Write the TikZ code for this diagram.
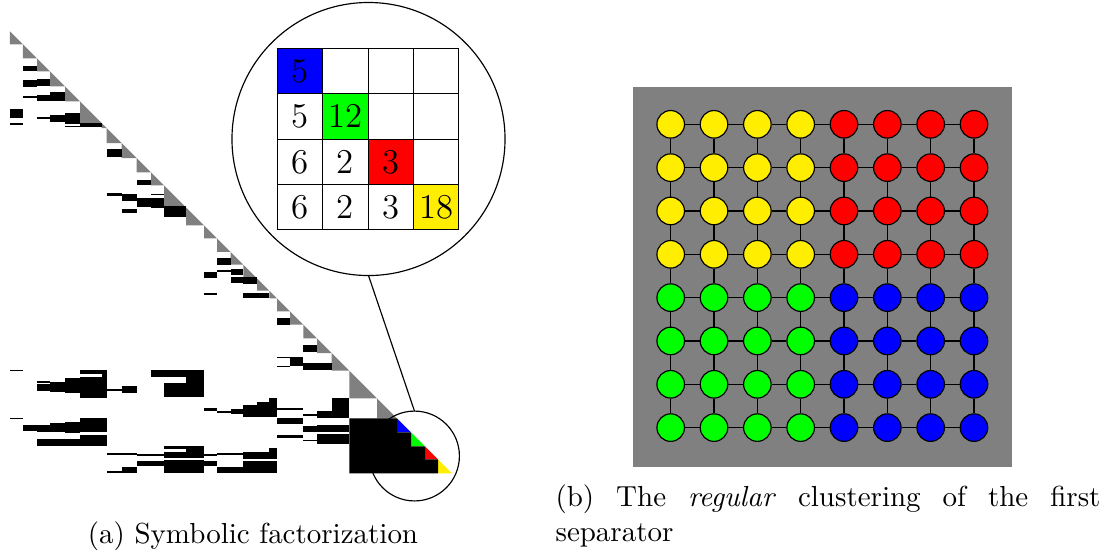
\documentclass[tikz,border=0pt]{standalone}
\usepackage{tikz}
\usetikzlibrary{positioning}
\definecolor{sepyellow}{RGB}{255,238,0}

\tikzset{
  cell/.style={draw, minimum size=15.66pt, inner sep=0pt, outer sep=0pt, font=\large},
  vtx/.style={draw, circle, minimum size=9.5pt, inner sep=0pt},
  lens/.style={draw, circle, inner sep=0pt, outer sep=0pt},
  diagblk/.style={fill=gray},
}

\begin{document}
\begin{tikzpicture}[x=0.345pt, y=-0.345pt]
        \useasboundingbox (0,0) rectangle (1106,551);

        % Diagonal blocks of the factor
        \foreach \a/\b in {10/23, 23/37, 37/50, 50/65, 65/80, 80/101.7, 101.7/106.7,
            106.7/121.7, 121.7/136.7, 136.7/151, 151/164, 164/186, 186/204, 204/217,
            217/230.5, 230.5/243.3, 243.3/257, 257/269.3, 269.3/277, 277/290,
            290/303.3, 303.3/317, 317/331.7, 331.7/349.3, 349.3/377, 377/397}
            \fill[diagblk] (\a,{\a+21.3}) -- (\b,{\b+21.3}) -- (\a,{\b+21.3}) -- cycle;

        % Last separator, one colour per cluster
        \fill[blue] (397,418.3) -- (411,432.3) -- (397,432.3) -- cycle;
        \fill[green] (411,432.3) -- (425,446.3) -- (411,446.3) -- cycle;
        \fill[red] (425,446.3) -- (438,459.3) -- (425,459.3) -- cycle;
        \fill[sepyellow] (438,459.3) -- (452,473.3) -- (438,473.3) -- cycle;

        % Off-diagonal blocks
        \fill (23,66) rectangle (37,71);
        \fill (23,80) rectangle (37,87);
        \fill (37,79) rectangle (50,86);
        \fill (23,96) rectangle (37,97.7);
        \fill (37,95) rectangle (50,101);
        \fill (50,92.3) rectangle (65,101);
        \fill (10,109) rectangle (23,118);
        \fill (10,123) rectangle (23,124.7);
        \fill (37,117.3) rectangle (50,119.3);
        \fill (50,114.7) rectangle (65,122);
        \fill (65,113) rectangle (80,123.7);
        \fill (65,125.7) rectangle (80,127.3);
        \fill (80,123) rectangle (101.7,127.3);
        \fill (106.7,149) rectangle (121.7,156.7);
        \fill (136.7,180) rectangle (151,185);
        \fill (106.7,192.7) rectangle (121.7,196);
        \fill (121.7,193.5) rectangle (136.7,200.5);
        \fill (136.7,198.3) rectangle (151,206.5);
        \fill (151,193.5) rectangle (164,195);
        \fill (151,198.3) rectangle (164,208.3);
        \fill (121.7,209) rectangle (136.7,212.5);
        \fill (164,206) rectangle (186,216.7);
        \fill (217,258.3) rectangle (230.5,265);
        \fill (217,270) rectangle (230.5,272);
        \fill (204,271.7) rectangle (217,278);
        \fill (230.5,269) rectangle (243.3,275);
        \fill (230.5,277.3) rectangle (243.3,283.3);
        \fill (243.3,277.3) rectangle (257,284);
        \fill (204,292.7) rectangle (217,294.5);
        \fill (243.3,292.7) rectangle (269.3,298.3);
        \fill (277,318.3) rectangle (290,325);
        \fill (303.3,345) rectangle (317,351.7);
        \fill (277,356.5) rectangle (290,358.3);
        \fill (290,356.5) rectangle (303.3,366);
        \fill (277,365.7) rectangle (290,367.3);
        \fill (303.3,363.3) rectangle (317,370);
        \fill (317,363.3) rectangle (331.7,370);

        \fill (10,370) rectangle (23,371.3);
        \fill (80,370) rectangle (106.7,374.3);
        \fill (101.7,374.3) rectangle (106.7,379);
        \fill (37,381) rectangle (50,382.5);
        \fill (37,384.3) rectangle (50,391);
        \fill (50,381.7) rectangle (65,392.3);
        \fill (65,378.3) rectangle (80,393.3);
        \fill (80,376.7) rectangle (106.7,398);
        \fill (106.7,388.5) rectangle (121.7,391);
        \fill (121.7,385.7) rectangle (136.7,393.3);
        \fill (151,370) rectangle (204,376.7);
        \fill (164,383) rectangle (204,397);
        \fill (186,376.7) rectangle (204,383);

        \fill (10,417.7) rectangle (23,419);
        \fill (23,425) rectangle (37,431);
        \fill (37,425) rectangle (50,431.7);
        \fill (50,423.3) rectangle (65,432.3);
        \fill (65,421.7) rectangle (80,433.3);
        \fill (80,417.7) rectangle (106.7,432.3);
        \fill (37,439) rectangle (80,445.7);
        \fill (80,435) rectangle (106.7,445.7);
        \fill (106.7,452.7) rectangle (136.7,454.5);
        \fill (136.7,454.3) rectangle (164,455.7);
        \fill (164,445.7) rectangle (204,449.3);
        \fill (164,452.3) rectangle (204,458.3);
        \fill (186,449.3) rectangle (204,452.3);
        \fill (136.7,461) rectangle (164,466);
        \fill (164,460) rectangle (204,473.3);
        \fill (121.7,466.7) rectangle (136.7,473.3);
        \fill (106.7,470.5) rectangle (121.7,473.3);
        \fill (204,454.3) rectangle (217,455.7);
        \fill (204,461) rectangle (217,466);
        \fill (217,453.3) rectangle (243.3,455);
        \fill (217,466.7) rectangle (243.3,473.3);
        \fill (243.3,452.3) rectangle (269.3,459);
        \fill (243.3,461) rectangle (277,473.3);
        \fill (269.3,448.3) rectangle (277,459);

        \fill (204,408.3) rectangle (217,410.5);
        \fill (217,410.7) rectangle (230.5,413.3);
        \fill (230.5,409.3) rectangle (243.3,414.3);
        \fill (243.3,405) rectangle (257,416.5);
        \fill (257,401.7) rectangle (269.3,417);
        \fill (269.3,398) rectangle (277,417);
        \fill (277,408) rectangle (290,409.5);
        \fill (290,408) rectangle (303.3,410.3);
        \fill (277,418.3) rectangle (303.3,424);
        \fill (303.3,414.3) rectangle (317,415.7);
        \fill (317,411) rectangle (331.7,418.3);
        \fill (331.7,398) rectangle (349.3,418.3);
        \fill (303.3,425.7) rectangle (317,432.3);
        \fill (317,425) rectangle (349.3,432.3);
        \fill (277,435) rectangle (303.3,437.5);
        \fill (303.3,440) rectangle (317,441.3);
        \fill (317,434.3) rectangle (349.3,444.3);

        % Dense part under the last separator
        \fill (349.3,418.3) -- (397,418.3) -- (397,432.3) -- (411,432.3) -- (411,446.3)
            -- (425,446.3) -- (425,459.3) -- (438,459.3) -- (438,473.3) -- (349.3,473.3) -- cycle;

        % Zoom on the last separator
        \node[lens, minimum size=94.2pt] (lensbig) at (368.5,139) {};
        \node[lens, minimum size=31pt] (lenssmall) at (414.5,456) {};
        \draw (lensbig.south) -- (lenssmall.north);

        \node[cell, fill=blue] (c11) at (300,71) {5};
        \node[cell] (c12) at (345.4,71) {};
        \node[cell] (c13) at (390.8,71) {};
        \node[cell] (c14) at (436.2,71) {};
        \node[cell] (c21) at (300,116.4) {5};
        \node[cell, fill=green] (c22) at (345.4,116.4) {12};
        \node[cell] (c23) at (390.8,116.4) {};
        \node[cell] (c24) at (436.2,116.4) {};
        \node[cell] (c31) at (300,161.8) {6};
        \node[cell] (c32) at (345.4,161.8) {2};
        \node[cell, fill=red] (c33) at (390.8,161.8) {3};
        \node[cell] (c34) at (436.2,161.8) {};
        \node[cell] (c41) at (300,207.2) {6};
        \node[cell] (c42) at (345.4,207.2) {2};
        \node[cell] (c43) at (390.8,207.2) {3};
        \node[cell, fill=sepyellow] (c44) at (436.2,207.2) {18};

        % The grid graph and its clustering
        \fill[gray] (633,87.3) rectangle (1012,466.7);
        \foreach \i in {0,...,3}
            \foreach \j in {0,...,3} {
                \node[vtx, fill=sepyellow] (v\i\j) at ({670.7+43.33*\i},{124.3+43.33*\j}) {};
            }
        \foreach \i in {4,...,7}
            \foreach \j in {0,...,3} {
                \node[vtx, fill=red] (v\i\j) at ({670.7+43.33*\i},{124.3+43.33*\j}) {};
            }
        \foreach \i in {0,...,3}
            \foreach \j in {4,...,7} {
                \node[vtx, fill=green] (v\i\j) at ({670.7+43.33*\i},{124.3+43.33*\j}) {};
            }
        \foreach \i in {4,...,7}
            \foreach \j in {4,...,7} {
                \node[vtx, fill=blue] (v\i\j) at ({670.7+43.33*\i},{124.3+43.33*\j}) {};
            }
        \foreach \i [evaluate=\i as \k using int(\i+1)] in {0,...,6}
            \foreach \j in {0,...,7} {
                \draw (v\i\j) -- (v\k\j);
                \draw (v\j\i) -- (v\j\k);
            }

        % Captions
        \node (capa) at (253,536) {(a) Symbolic factorization};
        \node[text width=188pt, align=justify, inner sep=0pt, anchor=north west] (capb) at (555,484)
            {(b) The \emph{regular} clustering of the first\linebreak separator};
\end{tikzpicture}
\end{document}
